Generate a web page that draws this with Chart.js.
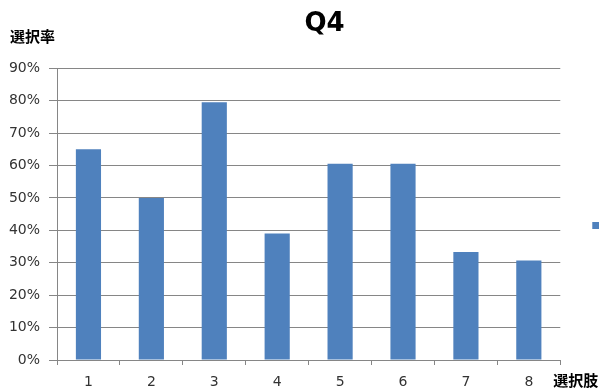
<!DOCTYPE html>
<html lang="ja">
<head>
    <meta charset="UTF-8">
    <title>Q4</title>
    <script src="https://cdn.jsdelivr.net/npm/chart.js"></script>
    <style>
        body { margin: 0; background: #fff; }
        .wrap { width: 599px; height: 390px; overflow: hidden; }
    </style>
</head>
<body>
    <div class="wrap">
        <canvas id="q4Chart" width="674" height="390"></canvas>
    </div>

    <script>
        const choices = ['1', '2', '3', '4', '5', '6', '7', '8'];
        const rates = [65, 50, 79.5, 39, 60.5, 60.5, 33.3, 30.7];
        const yTicks = [0, 10, 20, 30, 40, 50, 60, 70, 80, 90];
        const seriesName = '系列1';
        const yTitle = '選択率';
        const xTitle = '選択肢';

        const jpFont = "'Noto Sans CJK JP', sans-serif";
        const numFont = "'DejaVu Sans', sans-serif";

        // axis titles sit outside the plot, horizontal like the excel chart
        const axisTitles = {
            id: 'axisTitles',
            afterDraw(chart) {
                const ctx = chart.ctx;
                const area = chart.chartArea;
                ctx.save();
                ctx.fillStyle = '#000';
                ctx.font = 'bold 15px ' + jpFont;
                ctx.textBaseline = 'middle';
                ctx.textAlign = 'left';
                ctx.fillText(yTitle, 10, area.top - 32);
                ctx.fillText(xTitle, area.right - 7, area.bottom + 20);
                ctx.restore();
            }
        };

        new Chart(document.getElementById('q4Chart'), {
            type: 'bar',
            data: {
                labels: choices,
                datasets: [{
                    label: seriesName,
                    data: rates,
                    backgroundColor: '#4F81BD',
                    categoryPercentage: 1,
                    barPercentage: 0.4
                }]
            },
            options: {
                responsive: false,
                animation: false,
                layout: { padding: { left: 0, right: 25, top: 0, bottom: 0 } },
                plugins: {
                    title: {
                        display: true,
                        text: 'Q4',
                        color: '#000',
                        font: { family: numFont, size: 26, weight: 'bold' },
                        padding: { top: 9, bottom: 28 }
                    },
                    legend: {
                        position: 'right',
                        title: { display: true, text: ' ', font: { size: 10 }, padding: { top: 49, bottom: 0 } },
                        labels: {
                            boxWidth: 7,
                            boxHeight: 7,
                            padding: 32,
                            color: '#000',
                            font: { family: jpFont, size: 13 }
                        }
                    },
                    tooltip: { enabled: false }
                },
                scales: {
                    x: {
                        afterFit: axis => { axis.height = 30; },
                        grid: {
                            drawOnChartArea: false,
                            drawTicks: true,
                            tickLength: 5,
                            offset: true,
                            color: '#868686'
                        },
                        border: { display: true, color: '#868686' },
                        ticks: {
                            color: '#333',
                            padding: 9,
                            font: { family: numFont, size: 14 }
                        }
                    },
                    y: {
                        min: 0,
                        max: yTicks[yTicks.length - 1],
                        afterBuildTicks: axis => { axis.ticks = yTicks.map(v => ({ value: v })); },
                        afterFit: axis => { axis.width = 57; },
                        grid: { color: '#868686', tickLength: 8 },
                        border: { display: true, color: '#868686' },
                        ticks: {
                            color: '#333',
                            padding: 9,
                            font: { family: numFont, size: 14 },
                            callback: v => v + '%'
                        }
                    }
                }
            },
            plugins: [axisTitles]
        });
    </script>
</body>
</html>
